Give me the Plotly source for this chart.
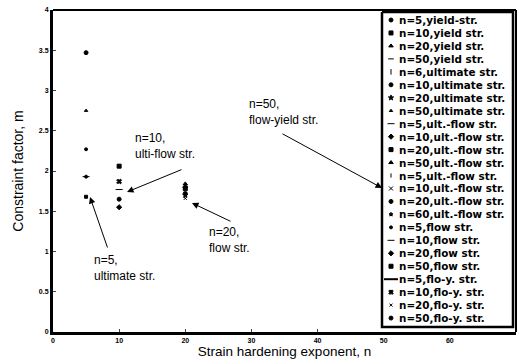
import plotly.graph_objects as go

series_names = [
    "n=5,yield-str.", "n=10,yield str.", "n=20,yield str.", "n=50,yield str.",
    "n=6,ultimate str.", "n=10,ultimate str.", "n=20,ultimate str.", "n=50,ultimate str.",
    "n=5,ult.-flow str.", "n=10,ult.-flow str.", "n=20,ult.-flow str.", "n=50,ult.-flow str.",
    "n=5,ult.-flow str.", "n=10,ult.-flow str.", "n=20,ult.-flow str.", "n=60,ult.-flow str.",
    "n=5,flow str.", "n=10,flow str.", "n=20,flow str.", "n=50,flow str.",
    "n=5,flo-y. str.", "n=10,flo-y. str.", "n=20,flo-y. str.", "n=50,flo-y. str.",
]
series_x = [
    5, 10, 20, 50,
    5, 10, 20, 50,
    5, 10, 20, 50,
    5, 10, 20, 50,
    5, 10, 20, 50,
    5, 10, 20, 50,
]
series_y = [
    3.47, 2.06, 1.84, 1.76,
    1.68, 1.65, 1.70, 1.75,
    2.75, 1.55, 1.78, 1.74,
    2.27, 1.87, 1.72, 1.77,
    1.93, 1.77, 1.80, 1.73,
    1.93, 1.87, 1.66, 1.75,
]
series_symbols = [
    "circle", "square", "triangle-up", "line-ew",
    "line-ns", "circle", "star", "triangle-up",
    "line-ew", "diamond", "square", "triangle-up",
    "line-ns", "x-thin", "circle", "star",
    "circle", "line-ew", "diamond", "square",
    "line-ew", "x", "x-thin", "circle",
]
series_sizes = [4, 4, 4, 4, 4, 4, 4, 3, 5, 4, 4, 4, 3, 4, 4, 3, 3, 5, 4, 4, 5, 4, 3, 4]
plot_symbols = list(series_symbols)
plot_symbols[8] = "triangle-up"
plot_symbols[12] = "circle"
plot_symbols[4] = "square"
plot_sizes = list(series_sizes)
plot_sizes[8] = 3
plot_sizes[12] = 3
plot_sizes[4] = 3

L, T, W, H = 53, 10, 463, 322

fig = go.Figure()
for i, name in enumerate(series_names):
    fig.add_trace(go.Scatter(
        x=[series_x[i]], y=[series_y[i]], name=name, mode="markers", showlegend=False,
        marker=dict(symbol=plot_symbols[i], size=plot_sizes[i], color="black",
                    line=dict(color="black", width=1)),
        xaxis="x", yaxis="y",
    ))

# compact legend drawn on an auxiliary axis pair (x2 in pixel offsets, y2 in rows)
LEG_LEFT, LEG_TOP, LEG_RIGHT, LEG_BOTTOM = 382, 12, 513, 327
ROW0, ROW_STEP = 20, 12.96
DOM_LEFT, DOM_TOP, DOM_BOTTOM = 376, T, T + H
row_of = lambda p: (p - ROW0) / ROW_STEP
box_x = [0, LEG_RIGHT - LEG_LEFT]
box_y = [row_of(LEG_TOP), row_of(LEG_BOTTOM)]
fig.add_trace(go.Scatter(
    x=[box_x[0], box_x[1], box_x[1], box_x[0], box_x[0]],
    y=[box_y[0], box_y[0], box_y[1], box_y[1], box_y[0]],
    mode="lines", fill="toself", fillcolor="white",
    line=dict(color="black", width=2.5),
    showlegend=False, hoverinfo="skip", xaxis="x2", yaxis="y2",
))
rows = list(range(len(series_names)))
for i, name in enumerate(series_names):
    is_line = name == "n=5,flo-y. str."
    fig.add_trace(go.Scatter(
        x=[2, 16] if is_line else [9], y=[rows[i]] * (2 if is_line else 1),
        mode="lines" if is_line else "markers", showlegend=False, hoverinfo="skip",
        marker=dict(symbol=series_symbols[i], size=series_sizes[i], color="black",
                    line=dict(color="black", width=1)),
        line=dict(color="black", width=2),
        xaxis="x2", yaxis="y2",
    ))
    fig.add_annotation(x=16, y=rows[i], xref="x2", yref="y2", text=name,
                       showarrow=False, xanchor="left", yanchor="middle", borderpad=0,
                       font=dict(family="DejaVu Sans", size=10.4, color="black",
                                 weight="bold"))

def px_to_data(px, py):
    return ((px - L) / W * 70, (T + H - py) / H * 4)

def px_to_paper(px, py):
    return ((px - L) / W, (T + H - py) / H)

annotations = [
    dict(text="n=10,<br>ulti-flow str.", tip=(127, 192), tail=(183, 169), tpos=(133, 146)),
    dict(text="n=5,<br>ultimate str.", tip=(90, 197), tail=(108, 249), tpos=(92, 268)),
    dict(text="n=20,<br>flow str.", tip=(192, 203), tail=(232, 222), tpos=(207, 240)),
    dict(text="n=50,<br>flow-yield str.", tip=(382, 188), tail=(281, 133), tpos=(247, 112)),
]
for a in annotations:
    x, y = px_to_data(*a["tip"])
    axd, ayd = px_to_data(*a["tail"])
    fig.add_annotation(x=x, y=y, ax=axd, ay=ayd, axref="x", ayref="y",
                       xref="x", yref="y", text="", showarrow=True,
                       arrowhead=2, arrowsize=1.3, arrowwidth=1, arrowcolor="black")
    txd, tyd = px_to_data(*a["tpos"])
    fig.add_annotation(x=txd, y=tyd, xref="x", yref="y", text=a["text"], showarrow=False,
                       xanchor="left", yanchor="middle", align="left",
                       font=dict(family="Liberation Sans, Arial", size=12, color="black"))

bx0, by0 = px_to_paper(LEG_LEFT, LEG_BOTTOM)
bx1, by1 = px_to_paper(LEG_RIGHT, LEG_TOP)
edge = dict(type="line", xref="paper", yref="paper", layer="above",
            line=dict(color="black", width=2))

fig.update_layout(
    width=519, height=364,
    margin=dict(l=L, r=519 - L - W, t=T, b=364 - T - H),
    plot_bgcolor="white", paper_bgcolor="white",
    font=dict(family="Liberation Sans, Arial", color="black"),
    showlegend=False,
    xaxis=dict(range=[0, 70], tickvals=[0, 10, 20, 30, 40, 50, 60, 70],
               showgrid=False, zeroline=False, showline=True, linecolor="black",
               linewidth=3, mirror=False, ticks="inside", ticklen=3,
               tickfont=dict(size=7, family="Liberation Sans, Arial", weight="bold"),
               title=dict(text="Strain hardening exponent, n", font=dict(size=13.5), standoff=3)),
    yaxis=dict(range=[0, 4], tickvals=[0, 0.5, 1, 1.5, 2, 2.5, 3, 3.5, 4],
               ticktext=["0", "0.5", "1", "1.5", "2", "2.5", "3", "3.5", "4"],
               showgrid=False, zeroline=False, showline=True, linecolor="black",
               linewidth=3, ticks="inside", ticklen=3,
               tickfont=dict(size=7, family="Liberation Sans, Arial", weight="bold"),
               title=dict(text="Constraint factor, m", font=dict(size=14), standoff=12)),
    xaxis2=dict(domain=[(DOM_LEFT - L) / W, 1.0], range=[DOM_LEFT - LEG_LEFT, L + W - LEG_LEFT],
                visible=False, anchor="y2", fixedrange=True),
    yaxis2=dict(domain=[0, 1], range=[row_of(DOM_BOTTOM), row_of(DOM_TOP)],
                visible=False, anchor="x2", fixedrange=True),
    shapes=[
        dict(edge, x0=bx0, x1=bx0, y0=by0, y1=by1),
        dict(edge, x0=bx1, x1=bx1, y0=by0, y1=by1),
        dict(edge, x0=bx0, x1=bx1, y0=by0, y1=by0),
        dict(edge, x0=bx0, x1=bx1, y0=by1, y1=by1),
        dict(type="line", xref="paper", yref="paper", x0=0, x1=1,
             y0=1, y1=1, line=dict(color="black", width=2)),
        dict(type="line", xref="paper", yref="paper", x0=1, x1=1, y0=0, y1=1,
             line=dict(color="black", width=2)),
    ],
)

fig.write_html("out.html")
